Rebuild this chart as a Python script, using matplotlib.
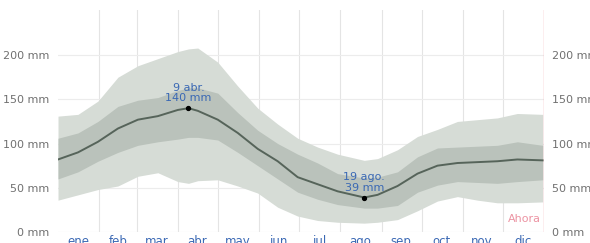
import matplotlib
matplotlib.use('Agg')
import matplotlib.pyplot as plt
import numpy as np

# day of year
days = [0, 15, 30, 45, 60, 75, 90, 98, 105, 120, 135, 150, 165, 180,
        195, 210, 230, 240, 255, 270, 285, 300, 315, 330, 345, 364]
p10 = [36, 42, 48, 52, 63, 67, 57, 55, 58, 59, 52, 44, 28, 18,
       13, 11, 10, 11, 14, 24, 35, 40, 36, 33, 33, 34]
p25 = [60, 68, 80, 90, 98, 102, 105, 107, 107, 104, 90, 75, 60, 45,
       37, 31, 27, 27, 30, 45, 53, 57, 56, 55, 57, 59]
median = [82, 90, 102, 117, 127, 131, 138, 140, 137, 127, 112, 94, 80, 62,
          54, 46, 39, 42, 52, 66, 75, 78, 79, 80, 82, 81]
p75 = [106, 112, 125, 142, 149, 152, 160, 163, 163, 157, 135, 115, 100, 88,
       78, 66, 61, 62, 68, 85, 95, 96, 97, 98, 102, 98]
p90 = [131, 133, 148, 175, 188, 196, 204, 207, 208, 192, 165, 140, 122, 106,
       96, 88, 81, 83, 93, 108, 116, 125, 127, 129, 134, 133]

month_starts = [31, 59, 90, 120, 151, 181, 212, 243, 273, 304, 334]
month_mid = [15.5, 45, 74, 104.5, 135, 165.5, 196, 227, 257.5, 288, 318.5, 349.5]
month_labels = ['ene', 'feb', 'mar', 'abr', 'may', 'jun',
                'jul', 'ago', 'sep', 'oct', 'nov', 'dic']
yticks = [0, 50, 100, 150, 200]

peak_day, peak_val, peak_txt = 98, 140, '9 abr.\n140 mm'
low_day, low_val, low_txt = 230, 39, '19 ago.\n39 mm'

blue = '#3a68b4'

fig = plt.figure(figsize=(5.9, 2.43), dpi=100)
ax = fig.add_axes([58 / 590, 11 / 243, 486 / 590, 222 / 243])

ax.fill_between(days, p10, p90, color='#d6dcd6', lw=0, zorder=1)
ax.fill_between(days, p25, p75, color='#bac2bb', lw=0, zorder=2)
ax.plot(days, median, color='#56645a', lw=1.4, zorder=3)

for d in month_starts:
    ax.axvline(d, color='#e4e4e4', lw=0.8, zorder=0)
for v in yticks:
    ax.axhline(v, color='#ececec', lw=0.8, zorder=0)
ax.axvline(365, color='#f2a9b2', lw=1.0, zorder=4)

for d, v, t in [(peak_day, peak_val, peak_txt), (low_day, low_val, low_txt)]:
    ax.plot(d, v, 'o', color='black', ms=2.8, zorder=5)
    ax.annotate(t, (d, v), xytext=(0, 5), textcoords='offset pixels',
                ha='center', va='bottom', color=blue, fontsize=8,
                linespacing=1.05, zorder=6)

ax.text(363, 15, 'Ahora', color='#ec93a2', fontsize=8, ha='right', va='center')

ax.set_xlim(0, 365)
ax.set_ylim(0, 251)
ax.set_yticks(yticks)
ax.set_yticklabels(['{} mm'.format(v) for v in yticks])
ax.set_xticks(month_mid)
ax.set_xticklabels(month_labels)
ax.tick_params(axis='y', length=0, labelsize=8, labelcolor='#707070',
               labelright=True, pad=6)
ax.tick_params(axis='x', length=0, labelsize=8.5, labelcolor=blue, pad=2)
for s in ax.spines.values():
    s.set_visible(False)

fig.savefig('out.png', dpi=100)
